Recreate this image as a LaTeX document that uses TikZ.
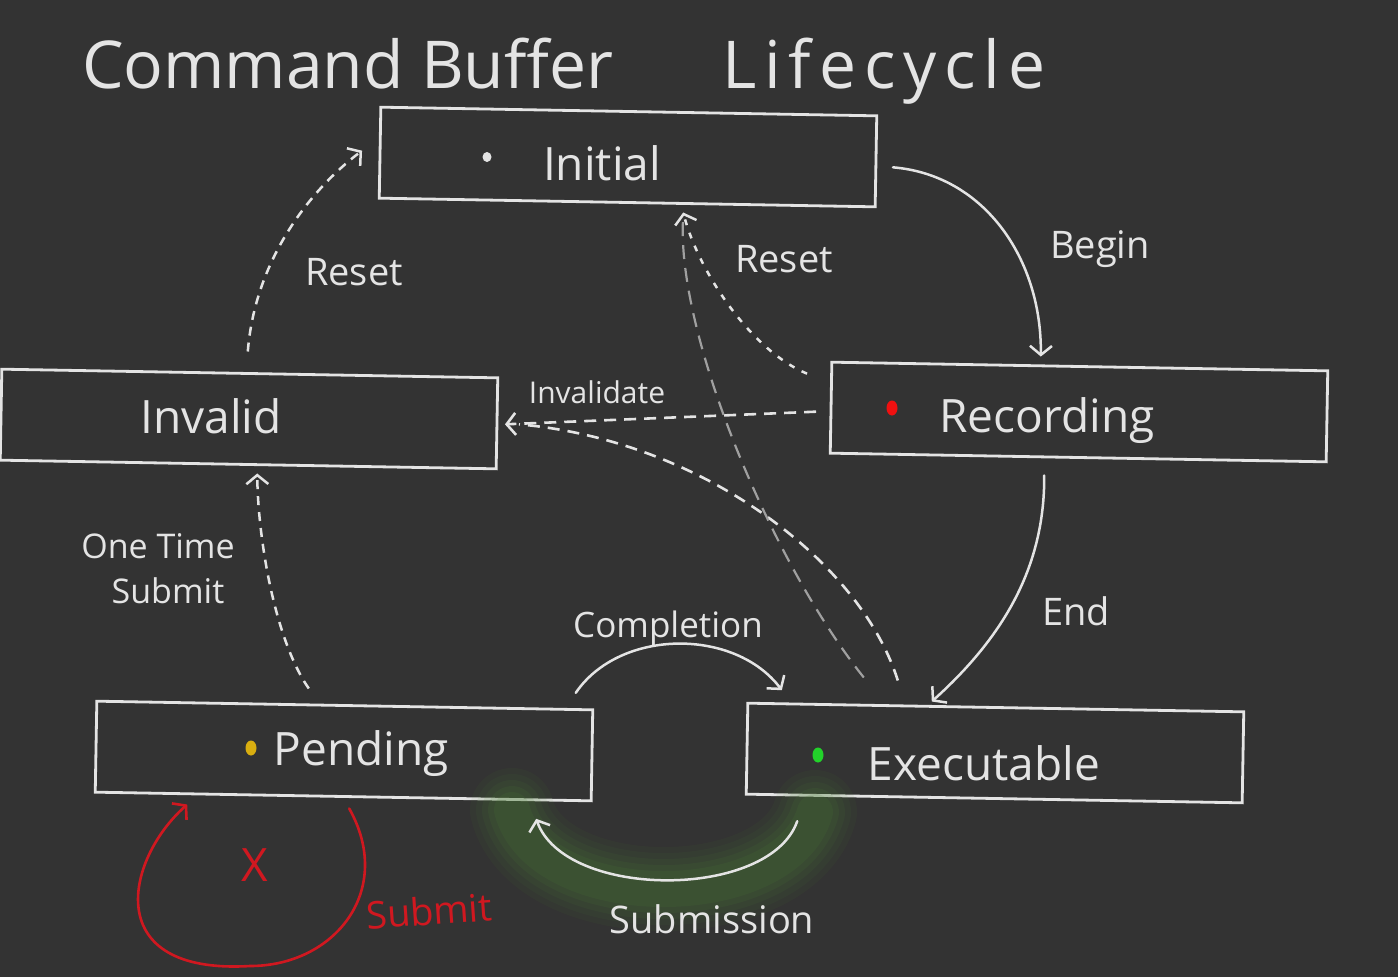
\documentclass[tikz,border=0pt]{standalone}
\usepackage{fontspec}
\setmainfont{Open Sans}
\usetikzlibrary{arrows.meta,calc,shapes.geometric}
\definecolor{board}{HTML}{333333}
\definecolor{chalk}{HTML}{E4E4E4}
\definecolor{chalkdim}{HTML}{A0A0A0}
\definecolor{redchalk}{HTML}{D01820}
\definecolor{glowgreen}{HTML}{4A7F32}
\definecolor{dotyellow}{HTML}{D9AE10}
\definecolor{dotgreen}{HTML}{22D22A}
\definecolor{dotred}{HTML}{F01010}
\begin{document}
\begin{tikzpicture}[x=1pt,y=-1pt,
  every node/.style={inner sep=0pt,outer sep=0pt},
  statebox/.style={draw=chalk,line width=2.8pt,minimum width=496pt,minimum height=91pt,rotate=-1},
  statetext/.style={text=chalk,anchor=base,font=\fontsize{46}{52}\selectfont},
  lbl/.style={text=chalk,anchor=base,font=\fontsize{38}{44}\selectfont},
  titletext/.style={text=chalk,anchor=base west,font=\fontsize{66}{72}\selectfont},
  statedot/.style={ellipse,minimum width=11pt,minimum height=15pt,draw=none},
  tip/.style={-{Straight Barb[length=9pt,width=22pt]}},
  wire/.style={draw=chalk,line width=2.5pt,line cap=round,tip},
  dashwire/.style={draw=chalk,line width=2.6pt,dash pattern=on 12pt off 8pt},
  shortdash/.style={draw=chalk,line width=2.5pt,dash pattern=on 9pt off 7pt},
  dotwire/.style={draw=chalk,line width=2.5pt,dash pattern=on 6pt off 8pt},
  dimwire/.style={draw=chalkdim,line width=2.2pt,dash pattern=on 14pt off 9pt},
  redwire/.style={draw=redchalk,line width=2.6pt,line cap=round,tip},
  glow/.style={draw=glowgreen,line cap=round},
]
\useasboundingbox (0,0) rectangle (1398,977);
\fill[board] (0,0) rectangle (1398,977);

% title
\node[titletext] (title1) at (82,88) {Command Buffer};
\node[titletext] (title2) at (722,88) {\addfontfeatures{LetterSpace=12}Lifecycle};

% state boxes
\node[statebox] (init) at (628,157) {};
\node[statebox] (rec) at (1079,412) {};
\node[statebox] (inv) at (249,419) {};
\node[statebox] (pend) at (344,751) {};
\node[statebox] (exe) at (995,753) {};

% state texts
\node[statetext] (initT) at (602,180) {Initial};
\node[statetext] (recT) at (1047,432) {Recording};
\node[statetext] (invT) at (211,433) {Invalid};
\node[statetext] (pendT) at (361,765) {Pending};
\node[statetext] (exeT) at (984,780) {Executable};

% state dots
\node[statedot,fill=chalk,minimum width=9pt,minimum height=10pt] (initD) at (487,157) {};
\node[statedot,fill=dotred] (recD) at (892,408) {};
\node[statedot,fill=dotyellow] (pendD) at (251,748) {};
\node[statedot,fill=dotgreen] (exeD) at (818,755) {};

% glow under Submission
\coordinate (glowA) at (815,812);
\coordinate (glowB) at (512,810);
\foreach \w/\o in {84/0.07,72/0.08,60/0.10,48/0.12,36/0.14}{
  \draw[glow,line width=\w pt,opacity=\o] (glowA) .. controls (785,915) and (540,915) .. (glowB);
}

% Begin
\draw[wire] ([shift={(17,6)}]init.east) .. controls (985,175) and (1042,260) .. ([shift={(-39,-10)}]rec.north);
\node[lbl] (beginL) at (1100,258) {Begin};

% End
\draw[wire] ([shift={(-34,18)}]rec.south) .. controls (1045,570) and (1000,640) .. ([shift={(-64,-6)}]exe.north);
\node[lbl] (endL) at (1076,625) {End};

% Invalidate
\draw[dashwire,tip] ([shift={(-15,4)}]rec.west) -- ([shift={(8,1)}]inv.east);
\node[lbl,font=\fontsize{30}{34}\selectfont] (invalL) at (597,403) {Invalidate};

% Executable -> Invalid (joins the Invalidate arrow)
\draw[dashwire] ([shift={(-98,-27)}]exe.north) .. controls (860,560) and (700,440) .. ([shift={(22,1)}]inv.east);

% Executable -> Initial (dim)
\draw[dimwire] ([shift={(-132,-30)}]exe.north) .. controls (770,560) and (675,330) .. ([shift={(56,14)}]init.south);

% Recording -> Initial (Reset)
\draw[dotwire,tip] ([shift={(-24,-34)}]rec.west) .. controls (750,350) and (698,270) .. ([shift={(56,10)}]init.south);
\node[lbl] (resetR) at (784,272) {Reset};

% Invalid -> Initial (Reset)
\draw[shortdash,tip] ([shift={(-2,-22)}]inv.north) .. controls (255,260) and (310,190) .. ([shift={(-18,-2)}]init.west);
\node[lbl] (resetL) at (354,285) {Reset};

% Pending -> Invalid (One Time Submit)
\draw[shortdash,tip] ([shift={(-36,-17)}]pend.north) .. controls (275,640) and (258,540) .. ([shift={(9,9)}]inv.south);
\node[lbl,font=\fontsize{34}{40}\selectfont] (otsA) at (158,558) {One Time};
\node[lbl,font=\fontsize{34}{40}\selectfont] (otsB) at (168,603) {Submit};

% Completion
\draw[wire] ([shift={(-17,-17)}]pend.north east) .. controls (620,628) and (735,628) .. ([shift={(34,-13)}]exe.north west);
\node[lbl,font=\fontsize{35}{40}\selectfont] (complL) at (668,637) {Completion};

% Submission
\draw[wire] ([shift={(51,27)}]exe.south west) .. controls (770,900) and (565,900) .. ([shift={(-55,18)}]pend.south east);
\node[lbl] (submL) at (712,933) {Submission};

% forbidden Submit loop (red)
\coordinate (loopbot) at (250,966);
\draw[redwire] ([shift={(6,12)}]pend.south) .. controls (395,890) and (335,966) .. (loopbot)
  .. controls (100,975) and (125,860) .. ([shift={(-156,8)}]pend.south);
\node[text=redchalk,font=\fontsize{46}{50}\selectfont] (redX) at (255,865) {X};
\node[lbl,text=redchalk,rotate=4] (submitR) at (430,925) {Submit};
\end{tikzpicture}
\end{document}
